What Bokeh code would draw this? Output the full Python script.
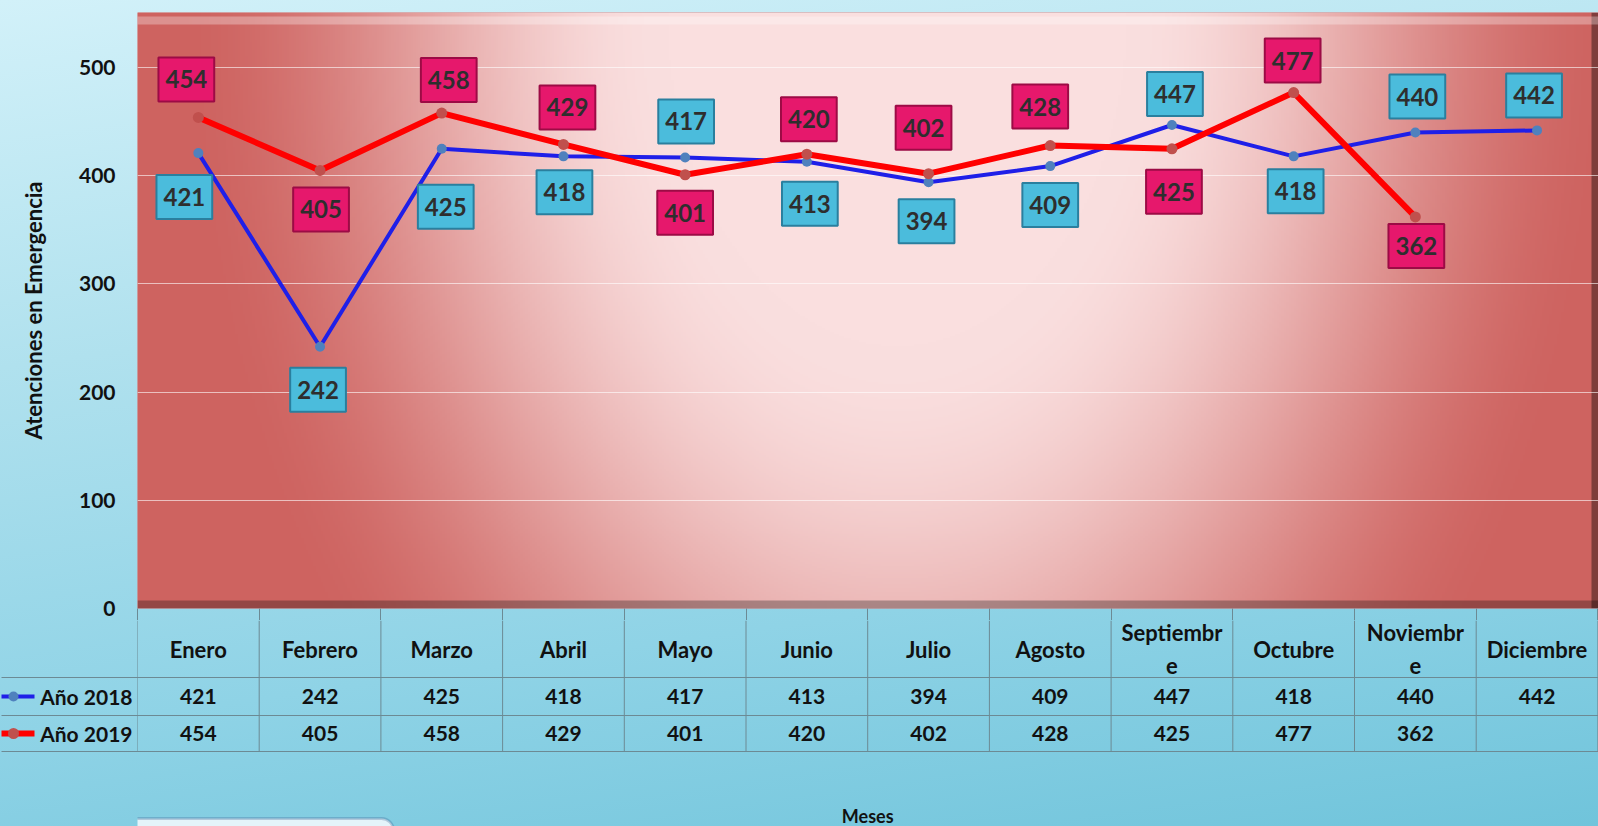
import numpy as np
from bokeh.plotting import figure
from bokeh.models import (Range1d, FixedTicker, ColumnDataSource, LinearAxis,
                          BoxAnnotation)
from bokeh.layouts import column
from bokeh.core.properties import value
from bokeh.embed import file_html
from bokeh.resources import INLINE

# ---------------- data ----------------
months = ["Enero", "Febrero", "Marzo", "Abril", "Mayo", "Junio", "Julio",
          "Agosto", "Septiembre", "Octubre", "Noviembre", "Diciembre"]
month_headers = ["Enero", "Febrero", "Marzo", "Abril", "Mayo", "Junio", "Julio",
                 "Agosto", "Septiembr\ne", "Octubre", "Noviembr\ne", "Diciembre"]
series_names = ["Año 2018", "Año 2019"]
values_2018 = [421, 242, 425, 418, 417, 413, 394, 409, 447, 418, 440, 442]
values_2019 = [454, 405, 458, 429, 401, 420, 402, 428, 425, 477, 362]
y_ticks = [0, 100, 200, 300, 400, 500]
y_title = "Atenciones en Emergencia"
x_title = "Meses"

# label placement (screen px, dx right / dy down) -- style only
label_off_2018 = [(-14, 44), (-2, 43), (4, 58), (1, 36), (1, -36), (3, 42),
                  (-2, 39), (0, 39), (3, -31), (2, 35), (2, -36), (-3, -35)]
label_off_2019 = [(-12, -38), (1, 39), (7, -33), (4, -37), (0, 38), (2, -35),
                  (-5, -46), (-10, -39), (2, 43), (-1, -32), (1, 29)]

# ---------------- layout / style constants ----------------
W = 1598
FRAME_L = 137
KEY_W = 36          # width of the key column left of the row titles
COL_W = 121.7
MAIN_H = 620
TABLE_H = 206
Y_MAX = 551
x_end = (W - FRAME_L) / COL_W
FONT = "Lato"
BLUE_LINE = "#1f1fe8"
BLUE_DOT = "#4f81bd"
RED_LINE = "#ff0000"
RED_DOT = "#c0504d"
GRID_C = "#6c8a94"

n = len(months)
xs = [i + 0.5 for i in range(n)]
xs19 = xs[:len(values_2019)]
col_edges = list(range(n + 1))

# ---------------- main chart ----------------
p = figure(width=W, height=MAIN_H, x_range=Range1d(0, x_end),
           y_range=Range1d(0, Y_MAX),
           min_border_left=FRAME_L, min_border_right=0, min_border_top=12,
           min_border_bottom=12, toolbar_location=None, output_backend="svg",
           outline_line_color=None, border_fill_alpha=0,
           background_fill_color="#d87a78")
p.xgrid.visible = False

# plot-area gradient (decorative background)
H, Wi = 300, 600
yy, xx = np.mgrid[0:H, 0:Wi]
fx = (xx + 0.5) / Wi
fy = (yy + 0.5) / H


def smooth(a, b, t):
    t = np.clip((t - a) / (b - a), 0, 1)
    return t * t * (3 - 2 * t)


r = np.sqrt(((fx - 0.52) / 0.45) ** 2 + ((1 - fy) / 1.6) ** 2)
L = 1 - smooth(0.35, 1.1, r)
dark = np.array([206, 99, 96], dtype=float)
light = np.array([250, 223, 223], dtype=float)
col = dark + (light - dark) * L[..., None]
bot = fy < 0.012
col[bot] = col[bot] * 0.72
rgt = fx > 0.995
col[rgt] = col[rgt] * 0.62
top = (fy > 0.981) & (fy < 0.992)
col[top] = col[top] + (np.array([255, 255, 255]) - col[top]) * 0.3
img = np.zeros((H, Wi), dtype=np.uint32)
view = img.view(dtype=np.uint8).reshape((H, Wi, 4))
view[..., 0] = col[..., 0].astype(np.uint8)
view[..., 1] = col[..., 1].astype(np.uint8)
view[..., 2] = col[..., 2].astype(np.uint8)
view[..., 3] = 255
p.image_rgba(image=[img], x=0, y=0, dw=x_end, dh=Y_MAX, level="image")

p.ygrid.ticker = FixedTicker(ticks=y_ticks)
p.ygrid.grid_line_color = "white"
p.ygrid.grid_line_alpha = 0.6
p.ygrid.grid_line_width = 1

ax = p.yaxis[0]
ax.ticker = FixedTicker(ticks=y_ticks)
ax.axis_line_color = None
ax.major_tick_line_color = None
ax.minor_tick_line_color = None
ax.major_tick_out = 0
ax.major_tick_in = 0
ax.major_label_text_font = FONT
ax.major_label_text_font_style = "bold"
ax.major_label_text_font_size = "21px"
ax.major_label_text_color = "#111111"
ax.major_label_standoff = 22
ax.axis_label = y_title
ax.axis_label_text_font = FONT
ax.axis_label_text_font_style = "bold"
ax.axis_label_text_font_size = "22px"
ax.axis_label_text_color = "#111111"
ax.axis_label_standoff = 29

# bottom axis: its ticks are the top part of the table's column rules
bx = p.xaxis[0]
bx.ticker = FixedTicker(ticks=col_edges)
bx.major_label_overrides = {e: "" for e in col_edges}
bx.major_label_text_font_size = "1px"
bx.major_label_standoff = 0
bx.axis_line_color = None
bx.major_tick_line_color = GRID_C
bx.major_tick_out = 12
bx.major_tick_in = 0
bx.minor_tick_line_color = None

p.line(xs, values_2018, line_color=BLUE_LINE, line_width=4)
p.scatter(xs, values_2018, size=10, fill_color=BLUE_DOT, line_color=None)
p.line(xs19, values_2019, line_color=RED_LINE, line_width=6)
p.scatter(xs19, values_2019, size=11, fill_color=RED_DOT, line_color=None)

src18 = ColumnDataSource(dict(
    x=xs, y=values_2018, t=[str(v) for v in values_2018],
    dx=[o[0] for o in label_off_2018], dy=[o[1] for o in label_off_2018]))
src19 = ColumnDataSource(dict(
    x=xs19, y=values_2019, t=[str(v) for v in values_2019],
    dx=[o[0] for o in label_off_2019], dy=[o[1] for o in label_off_2019]))

for src, fill, border in [(src18, "#4bbcdc", "#2a7f9e"),
                          (src19, "#e6186c", "#9c0b45")]:
    p.text(x="x", y="y", text="t", source=src, x_offset="dx", y_offset="dy",
           text_align="center", text_baseline="middle",
           text_font=value(FONT), text_font_style="bold",
           text_font_size="24px", text_color="#2e2e2e",
           background_fill_color=fill, border_line_color=border,
           border_line_width=2, padding=(7, 13))

# ---------------- data table below ----------------
t = figure(width=W, height=TABLE_H, x_range=Range1d(0, x_end),
           y_range=Range1d(TABLE_H, 0), x_axis_type=None,
           min_border_left=FRAME_L, min_border_right=0, min_border_top=0,
           min_border_bottom=0, toolbar_location=None, output_backend="svg",
           outline_line_color=None, border_fill_alpha=0,
           background_fill_alpha=0)
t.grid.visible = False

row_edges = [57, 95, 131]
row_centers = [76, 113]
header_y = 28.5
t.segment(x0=[0] * 3, y0=row_edges, x1=[x_end] * 3,
          y1=row_edges, line_color=GRID_C, line_width=1)
t.segment(x0=col_edges, y0=[0] * (n + 1), x1=col_edges,
          y1=[row_edges[-1]] * (n + 1), line_color=GRID_C, line_width=1)

# 1) row titles = left axis labels (next to the frame)
ty = t.yaxis[0]
ty.ticker = FixedTicker(ticks=row_centers)
ty.major_label_overrides = {c: s for c, s in zip(row_centers, series_names)}
ty.axis_line_color = None
ty.major_tick_line_color = None
ty.minor_tick_line_color = None
ty.major_tick_out = 0
ty.major_tick_in = 0
ty.minor_tick_out = 0
ty.minor_tick_in = 0
ty.major_label_standoff = 5
ty.major_label_text_font = FONT
ty.major_label_text_font_style = "bold"
ty.major_label_text_font_size = "21px"
ty.major_label_text_color = "#111111"

# 2) row rules across the title column (ticks out to the edge, in to frame)
rules = LinearAxis(ticker=FixedTicker(ticks=[], minor_ticks=row_edges),
                   axis_line_color=None, major_tick_line_color=None,
                   major_tick_out=0, major_tick_in=0, major_label_standoff=0,
                   minor_tick_line_color=GRID_C, minor_tick_line_width=1,
                   minor_tick_out=KEY_W, minor_tick_in=FRAME_L - KEY_W)
t.add_layout(rules, "left")


# 3) series keys: zero-width axes at the left edge, ticks pointing inwards
def key_axis(row_y, color, width, length, dash=None):
    k = LinearAxis(ticker=FixedTicker(ticks=[], minor_ticks=[row_y]),
                   axis_line_color=None, major_tick_line_color=None,
                   major_tick_out=0, major_tick_in=0, major_label_standoff=0,
                   minor_tick_line_color=color, minor_tick_line_width=width,
                   minor_tick_out=0, minor_tick_in=length)
    if dash is not None:
        k.minor_tick_line_dash = dash
        k.minor_tick_line_dash_offset = 36
        k.minor_tick_line_cap = "round"
    t.add_layout(k, "left")


key_axis(row_centers[0], BLUE_LINE, 4, 33)
key_axis(row_centers[1], RED_LINE, 6, 33)
key_axis(row_centers[0], BLUE_DOT, 10, 24, "0 48")
key_axis(row_centers[1], RED_DOT, 11, 24, "0 48")

txt = dict(text_align="center", text_baseline="middle", text_font=value(FONT),
           text_font_style="bold", text_color="#111111")
t.text(x=xs, y=[header_y] * n, text=month_headers, text_line_height=1.25,
       text_font_size="22px", **txt)
t.text(x=xs, y=[row_centers[0]] * n, text=[str(v) for v in values_2018],
       text_font_size="21px", **txt)
t.text(x=xs19, y=[row_centers[1]] * len(values_2019),
       text=[str(v) for v in values_2019], text_font_size="21px", **txt)
t.text(x=[n / 2], y=[195], text=[x_title], text_font_size="18px", **txt)

# decorative slide box peeking in at the bottom-left
t.add_layout(BoxAnnotation(left=-20, right=393, top=198, bottom=240,
                           left_units="canvas", right_units="canvas",
                           top_units="canvas", bottom_units="canvas",
                           fill_color="#e4f4fa", fill_alpha=1,
                           line_color="#3b6294", line_width=3,
                           border_radius=12))

layout = column(p, t, spacing=0, styles={
    "background": "linear-gradient(172deg, #d2f1f9 0%, #b0e1ee 35%, #8fd3e6 70%, #70c4db 100%)"})

open("out.html", "w").write(file_html(layout, INLINE))
